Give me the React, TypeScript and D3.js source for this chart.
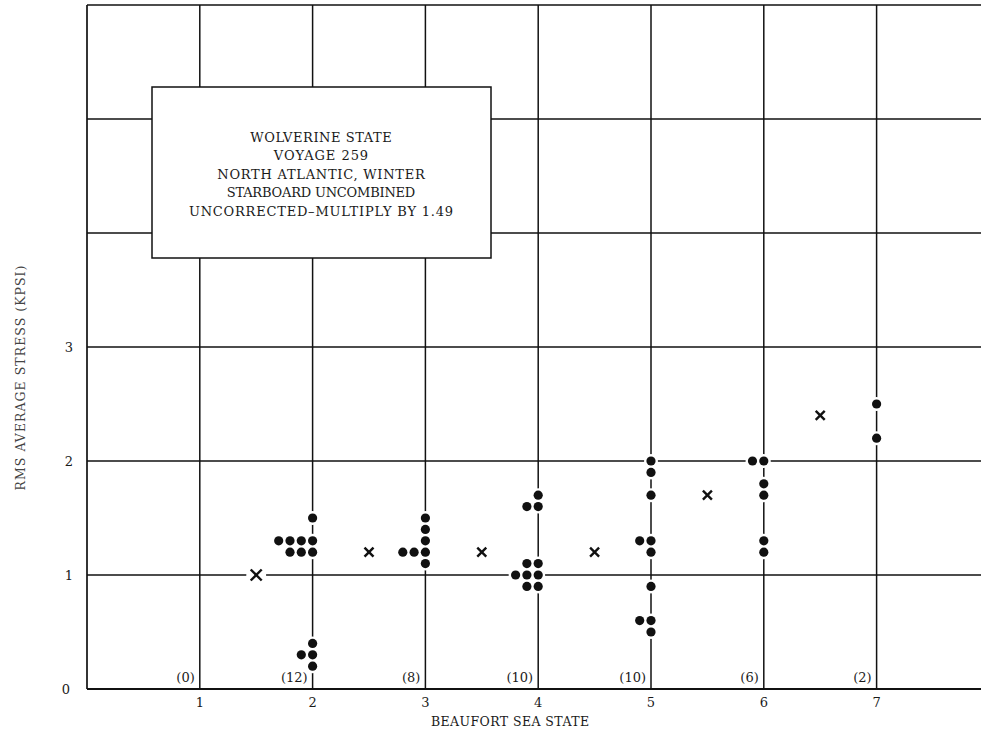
import React from "react";
import * as d3 from "d3";

const width = 981;
const height = 736;
const margin = { top: 5, right: 0, bottom: 47, left: 87 };
const ink = "#111";

// sea states on the x axis, with the number of records at each
const seaStates = [1, 2, 3, 4, 5, 6, 7];
const recordCounts = [0, 12, 8, 10, 10, 6, 2];
const stressTicks = [0, 1, 2, 3];
const gridY = [1, 2, 3, 4, 5, 6];

// individual records: [sea state, rms stress]
const records: [number, number][] = [
  [2, 1.5], [2, 1.3], [2, 1.3], [2, 1.3], [2, 1.3], [2, 1.2], [2, 1.2], [2, 1.2],
  [2, 0.4], [2, 0.3], [2, 0.3], [2, 0.2],
  [3, 1.5], [3, 1.4], [3, 1.3], [3, 1.2], [3, 1.2], [3, 1.2], [3, 1.1],
  [4, 1.7], [4, 1.6], [4, 1.6], [4, 1.1], [4, 1.1], [4, 1.0], [4, 1.0], [4, 1.0],
  [4, 0.9], [4, 0.9],
  [5, 2.0], [5, 1.9], [5, 1.7], [5, 1.3], [5, 1.3], [5, 1.2], [5, 0.9], [5, 0.6],
  [5, 0.6], [5, 0.5],
  [6, 2.0], [6, 2.0], [6, 1.8], [6, 1.7], [6, 1.3], [6, 1.2],
  [7, 2.5], [7, 2.2],
];

// mean values between states: [x, stress]
const means: [number, number][] = [
  [1.5, 1.0], [2.5, 1.2], [3.5, 1.2], [4.5, 1.2], [5.5, 1.7], [6.5, 2.4],
];

const noteLines = [
  "WOLVERINE STATE",
  "VOYAGE 259",
  "NORTH ATLANTIC, WINTER",
  "STARBOARD UNCOMBINED",
  "UNCORRECTED\u2013MULTIPLY BY 1.49",
];

const x = d3.scaleLinear().domain([0, 8]).range([margin.left, margin.left + 8 * 112.8]);
const y = d3.scaleLinear().domain([0, 6]).range([height - margin.bottom, margin.top]);

const serif = "'DejaVu Serif', 'Liberation Serif', serif";
const dotGap = 11.3;

export default function App() {
  // duplicates of the same reading are stacked leftwards of the line
  const seen = new Map<string, number>();
  const dots = records.map(([s, v]) => {
    const key = s + ":" + v;
    const k = seen.get(key) || 0;
    seen.set(key, k + 1);
    return { cx: x(s) - k * dotGap, cy: y(v) };
  });

  const x0 = x(0);
  const y0 = y(0);
  const yTop = y(6);

  return (
    <svg
      width={width}
      height={height}
      style={{ position: "absolute", left: 0, top: 0, background: "#fff" }}
    >
      {/* grid */}
      <g stroke={ink} strokeWidth={1.5}>
        {gridY.map(g => (
          <line key={"h" + g} x1={x0} x2={width} y1={y(g)} y2={y(g)} />
        ))}
        {seaStates.map(s => (
          <line key={"v" + s} x1={x(s)} x2={x(s)} y1={yTop} y2={y0} />
        ))}
        <line x1={x0} x2={x0} y1={yTop} y2={y0} strokeWidth={1.7} />
        <line x1={x0} x2={width} y1={y0} y2={y0} strokeWidth={2.2} />
      </g>

      {/* note box */}
      <rect x={152} y={87} width={339} height={171} fill="#fff" stroke={ink} strokeWidth={1.5} />
      <g fontFamily={serif} fontSize={13} fill="#1a1a1a" textAnchor="middle">
        {noteLines.map(t => (
          <text key={t} x={321} y={137 + noteLines.indexOf(t) * 18.6} dy="0.35em" textLength={t.length * 9.43} lengthAdjust="spacing">{t}</text>
        ))}
      </g>

      {/* halos to break the grid lines round the marks */}
      <g fill="#fff">
        {dots.map((d, i) => (
          <circle key={"h" + i} cx={d.cx} cy={d.cy} r={7} />
        ))}
        {means.map(([m, v], i) => (
          <circle key={"mh" + i} cx={x(m)} cy={y(v)} r={10} />
        ))}
      </g>

      {/* records */}
      <g fill={ink}>
        {dots.map((d, i) => (
          <circle key={i} cx={d.cx} cy={d.cy} r={4.6} />
        ))}
      </g>

      {/* means */}
      <g stroke={ink} strokeWidth={2.4}>
        {means.map(([m, v], i) => {
          const h = i === 0 ? 5.5 : 4.5;
          const cx = x(m);
          const cy = y(v);
          return (
            <g key={i}>
              <line x1={cx - h} x2={cx + h} y1={cy - h} y2={cy + h} />
              <line x1={cx - h} x2={cx + h} y1={cy + h} y2={cy - h} />
            </g>
          );
        })}
      </g>

      {/* record counts */}
      <g fontFamily={serif} fontSize={13} fill="#1a1a1a" textAnchor="end">
        {seaStates.map((s, i) => (
          <text key={s} x={x(s) - 5} y={y0 - 12} dy="0.35em">({recordCounts[i]})</text>
        ))}
      </g>

      {/* axis ticks */}
      <g fontFamily={serif} fontSize={13} fill="#1a1a1a" textAnchor="middle">
        {seaStates.map(s => (
          <text key={s} x={x(s)} y={y0 + 13} dy="0.35em">{s}</text>
        ))}
        {stressTicks.map(t => (
          <text key={t} x={t === 0 ? 66 : 69} y={y(t)} dy="0.35em">{t}</text>
        ))}
      </g>

      {/* axis titles */}
      <text
        x={510}
        y={y0 + 33}
        dy="0.35em"
        fontFamily={serif}
        fontSize={12.5}
        fill="#1a1a1a"
        textAnchor="middle"
        textLength={158}
        lengthAdjust="spacing"
      >
        BEAUFORT SEA STATE
      </text>
      <text
        transform={`translate(21, 378) rotate(-90)`}
        dy="0.35em"
        fontFamily={serif}
        fontSize={12.5}
        fill="#444"
        textAnchor="middle"
        textLength={225}
        lengthAdjust="spacing"
      >
        RMS AVERAGE STRESS (KPSI)
      </text>
    </svg>
  );
}
